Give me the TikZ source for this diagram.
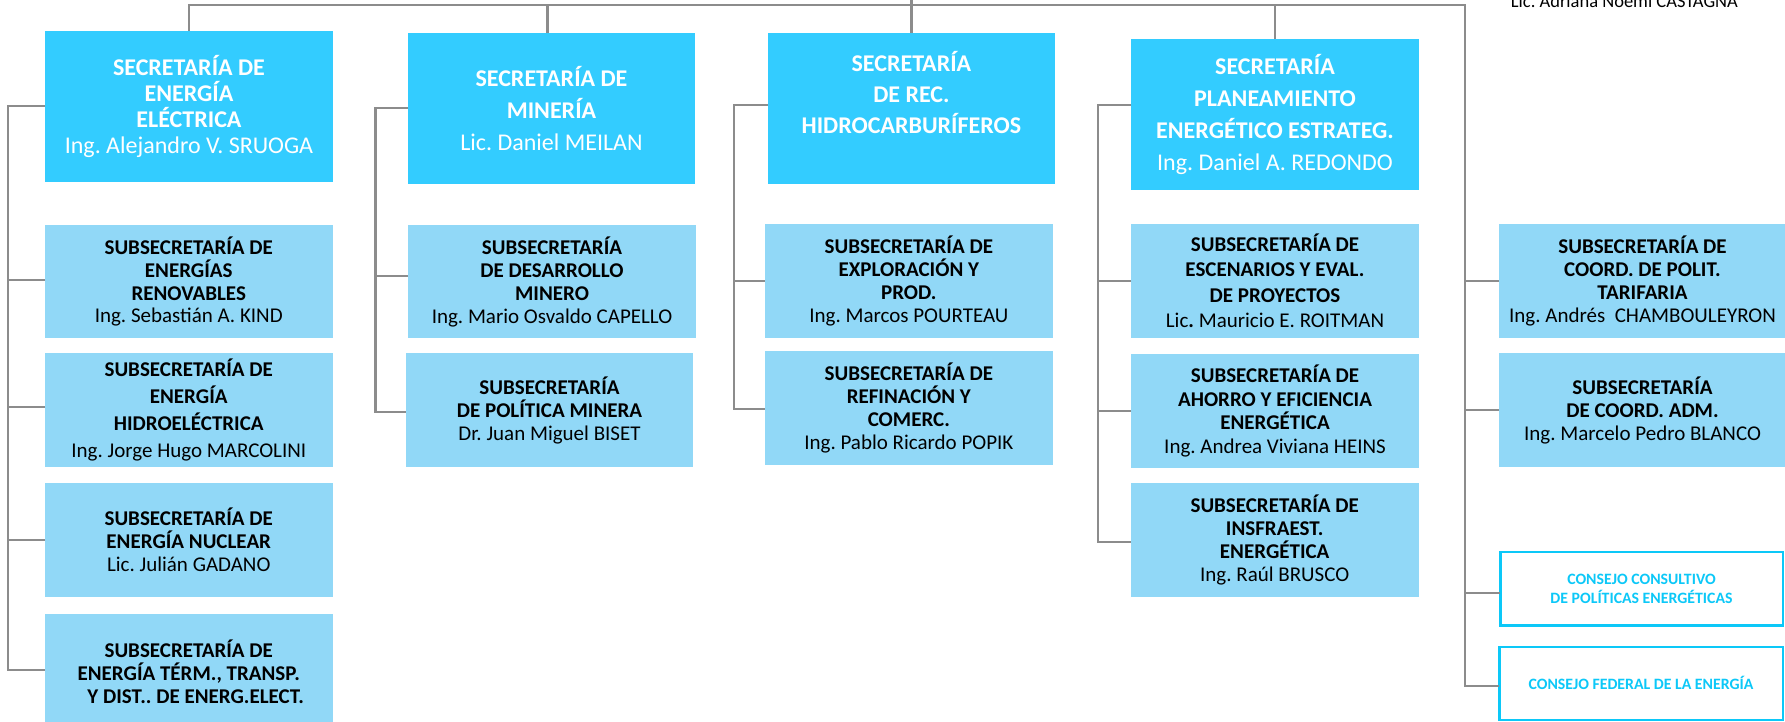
\documentclass[tikz,border=0pt]{standalone}
\usepackage{fontspec}
\setmainfont{Carlito}
\frenchspacing
\definecolor{secblue}{HTML}{33CCFF}
\definecolor{subblue}{HTML}{91D8F7}
\definecolor{cyanb}{HTML}{0CC8F8}
\definecolor{linegray}{HTML}{8C8C8C}
\newcommand\bl[1]{\textbf{#1}}
\tikzset{
  secbox/.style={fill=secblue, text=white, inner sep=0pt, outer sep=0pt, align=center},
  subbox/.style={fill=subblue, text=black, inner sep=0pt, outer sep=0pt, align=center},
  consbox/.style={draw=cyanb, line width=2.5pt, fill=white, text=cyanb, inner sep=0pt, outer sep=0pt, align=center},
  secfont/.style={font=\frenchspacing\fontsize{24}{#1}\selectfont},
  subfont/.style={font=\frenchspacing\fontsize{21}{#1}\selectfont},
  conn/.style={draw=linegray, line width=2.3pt},
}
\begin{document}
\begin{tikzpicture}[x=1pt,y=-1pt]
\useasboundingbox (0,0) rectangle (1785,722);
\clip (0,0) rectangle (1785,722);
% Secretarias
\node[secbox, secfont=26, minimum width=288, minimum height=150.7] (sec1) at (189,106.35)
  {\bl{SECRETARÍA DE}\\\bl{ENERGÍA}\\\bl{ELÉCTRICA}\\Ing. Alejandro V. SRUOGA};
\node[secbox, secfont=31.7, minimum width=287, minimum height=150.7] (sec2) at (551.5,108.35)
  {\bl{SECRETARÍA DE}\\\bl{MINERÍA}\\Lic. Daniel MEILAN};
\node[secbox, secfont=31, minimum width=287.2, minimum height=150.7] (sec3) at (911.4,108.35)
  {\bl{SECRETARÍA}\\\bl{DE REC.}\\\bl{HIDROCARBURÍFEROS}\\\mbox{}};
\node[secbox, secfont=32, minimum width=288, minimum height=150.7] (sec4) at (1275,114.35)
  {\bl{SECRETARÍA}\\\bl{PLANEAMIENTO}\\\bl{ENERGÉTICO ESTRATEG.}\\Ing. Daniel A. REDONDO};
% Column 1
\node[subbox, subfont=22.7, minimum width=287.5, minimum height=113.3] (ren) at (188.75,281.65)
  {\bl{SUBSECRETARÍA DE}\\\bl{ENERGÍAS}\\\bl{RENOVABLES}\\Ing. Sebastián A. KIND};
\node[subbox, subfont=27, minimum width=287.5, minimum height=113.4] (hid) at (188.75,410)
  {\bl{SUBSECRETARÍA DE}\\\bl{ENERGÍA}\\\bl{HIDROELÉCTRICA}\\Ing. Jorge Hugo MARCOLINI};
\node[subbox, subfont=23, minimum width=287.5, minimum height=113.4] (nuc) at (188.75,540)
  {\bl{SUBSECRETARÍA DE}\\\bl{ENERGÍA NUCLEAR}\\Lic. Julián GADANO};
\node[subbox, subfont=23, minimum width=287.5, minimum height=116] (ter) at (188.75,672)
  {\bl{SUBSECRETARÍA DE}\\\bl{ENERGÍA TÉRM., TRANSP.}\\\hspace*{14pt}\bl{Y DIST.. DE ENERG.ELECT.}};
% Column 2
\node[subbox, subfont=23, minimum width=288, minimum height=113.3] (des) at (552,281.65)
  {\bl{SUBSECRETARÍA}\\\bl{DE DESARROLLO}\\\bl{MINERO}\\Ing. Mario Osvaldo CAPELLO};
\node[subbox, subfont=23, minimum width=287, minimum height=113.4] (pol) at (549.5,410)
  {\bl{SUBSECRETARÍA}\\\bl{DE POLÍTICA MINERA}\\Dr. Juan Miguel BISET};
% Column 3
\node[subbox, subfont=23, minimum width=288.1, minimum height=113.7] (exp) at (908.85,280.85)
  {\bl{SUBSECRETARÍA DE}\\\bl{EXPLORACIÓN Y}\\\bl{PROD.}\\Ing. Marcos POURTEAU};
\node[subbox, subfont=23, minimum width=288.1, minimum height=114] (ref) at (908.85,408)
  {\bl{SUBSECRETARÍA DE}\\\bl{REFINACIÓN Y}\\\bl{COMERC.}\\Ing. Pablo Ricardo POPIK};
% Column 4
\node[subbox, subfont=25.5, minimum width=288, minimum height=113.7] (esc) at (1275,280.85)
  {\bl{SUBSECRETARÍA DE}\\\bl{ESCENARIOS Y EVAL.}\\\bl{DE PROYECTOS}\\Lic\bl{.} Mauricio E. ROITMAN};
\node[subbox, subfont=23.7, minimum width=288, minimum height=113.7] (aho) at (1275,410.85)
  {\bl{SUBSECRETARÍA DE}\\\bl{AHORRO Y EFICIENCIA}\\\bl{ENERGÉTICA}\\Ing. Andrea Viviana HEINS};
\node[subbox, subfont=23, minimum width=287.8, minimum height=113.4] (ins) at (1274.7,540)
  {\bl{SUBSECRETARÍA DE}\\\bl{INSFRAEST.}\\\bl{ENERGÉTICA}\\Ing. Raúl BRUSCO};
% Column 5
\node[subbox, subfont=23, minimum width=287, minimum height=113.7] (tar) at (1642.5,280.85)
  {\bl{SUBSECRETARÍA DE}\\\bl{COORD. DE POLIT.}\\\bl{TARIFARIA}\\Ing. Andrés\ \ CHAMBOULEYRON};
\node[subbox, subfont=23, minimum width=287, minimum height=113.4] (adm) at (1642.5,410)
  {\bl{SUBSECRETARÍA}\\\bl{DE COORD. ADM.}\\Ing. Marcelo Pedro BLANCO};
\node[consbox, font=\frenchspacing\bfseries\fontsize{15.8}{19}\selectfont, minimum width=282.5, minimum height=73.5] (cons) at (1641.5,588.7)
  {CONSEJO CONSULTIVO\\DE POLÍTICAS ENERGÉTICAS};
\node[consbox, font=\frenchspacing\bfseries\fontsize{15.8}{19}\selectfont, minimum width=283.5, minimum height=72.8] (fed) at (1641,683.35)
  {CONSEJO FEDERAL DE LA ENERGÍA};
% top right name
\node[anchor=base west, inner sep=0pt, font=\frenchspacing\fontsize{18.5}{20}\selectfont] (cast) at (1510.7,7.5)
  {Lic. Adriana Noemí CASTAGNA};
% connectors
\coordinate (tr) at (1464.7,4.7);
\coordinate (topc) at (911.4,-3);
\coordinate (c1) at (8,0);
\coordinate (c2) at (375.5,0);
\coordinate (c3) at (734,0);
\coordinate (c4) at (1098,0);
\draw[conn] (sec1.north) |- (tr) |- ([yshift=-2.65pt]fed.west);
\draw[conn] (sec3.north) -- (topc);
\draw[conn] ([xshift=-4pt]sec2.north) -- ([xshift=-4pt]sec2.north |- tr);
\draw[conn] (sec4.north) -- (sec4.north |- tr);
\draw[conn] (tar.west) -- (tar.west -| tr);
\draw[conn] (adm.west) -- (adm.west -| tr);
\draw[conn] ([yshift=-4pt]cons.west) -- ([yshift=-4pt]cons.west -| tr);
% col1
\draw[conn] (sec1.west) -- (sec1.west -| c1) |- ([yshift=2pt]ter.west);
\draw[conn] ([yshift=1.6pt]ren.west) -- ([yshift=1.6pt]ren.west -| c1);
\draw[conn] ([yshift=2.7pt]hid.west) -- ([yshift=2.7pt]hid.west -| c1);
\draw[conn] (nuc.west) -- (nuc.west -| c1);
% col2
\draw[conn] (sec2.west) -- (sec2.west -| c2) |- ([yshift=-1.7pt]pol.west);
\draw[conn] ([yshift=6pt]des.west) -- ([yshift=6pt]des.west -| c2);
% col3
\draw[conn] ([yshift=3.3pt]sec3.west) -- ([yshift=3.3pt]sec3.west -| c3) |- ([yshift=-1pt]ref.west);
\draw[conn] (exp.west) -- (exp.west -| c3);
% col4
\draw[conn] ([yshift=9.35pt]sec4.west) -- ([yshift=9.35pt]sec4.west -| c4) |- ([yshift=-1.7pt]ins.west);
\draw[conn] (esc.west) -- (esc.west -| c4);
\draw[conn] (aho.west) -- (aho.west -| c4);
\end{tikzpicture}
\end{document}
